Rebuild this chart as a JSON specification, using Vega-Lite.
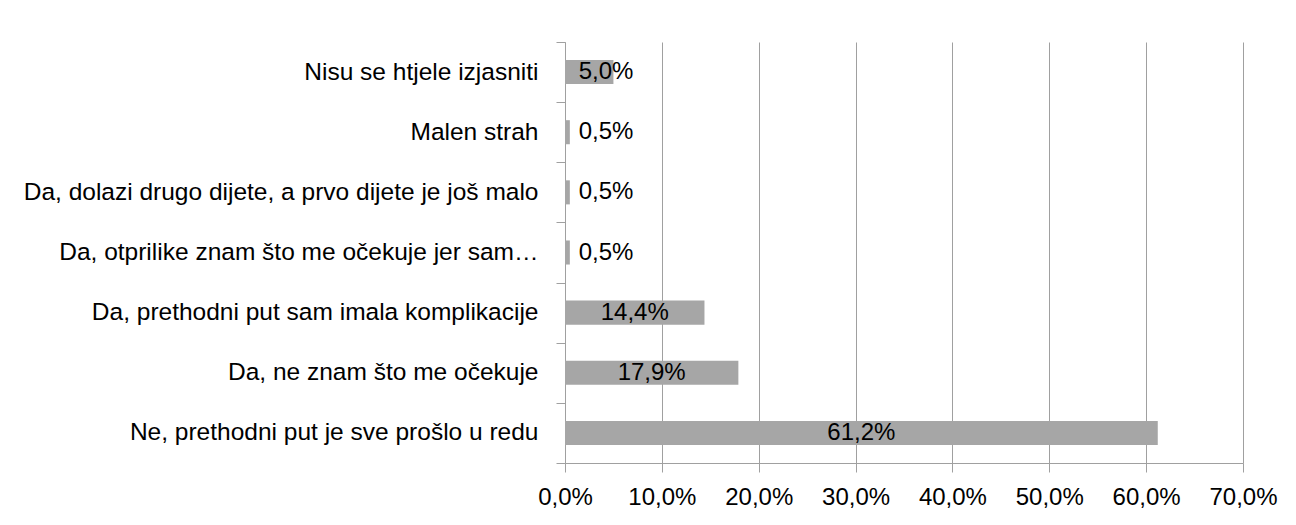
{
  "$schema": "https://vega.github.io/schema/vega-lite/v6.json",
  "autosize": {"type": "none"},
  "padding": {"left": 565, "top": 42, "right": 53, "bottom": 62},
  "width": 678,
  "height": 421,
  "background": "white",
  "config": {
    "view": {"stroke": null},
    "font": "Liberation Sans"
  },
  "data": {
    "values": [
      {"category": "Nisu se htjele izjasniti", "value": 0.050},
      {"category": "Malen strah", "value": 0.005},
      {"category": "Da, dolazi drugo dijete, a prvo dijete je još malo", "value": 0.005},
      {"category": "Da, otprilike znam što me očekuje jer sam…", "value": 0.005},
      {"category": "Da, prethodni put sam imala komplikacije", "value": 0.144},
      {"category": "Da, ne znam što me očekuje", "value": 0.179},
      {"category": "Ne, prethodni put je sve prošlo u redu", "value": 0.612}
    ]
  },
  "transform": [
    {"calculate": "replace(format(datum.value, '.1%'), '.', ',')", "as": "label"},
    {"calculate": "max(datum.value / 2, 0.0424)", "as": "labelX"}
  ],
  "encoding": {
    "y": {
      "field": "category",
      "type": "nominal",
      "sort": null,
      "scale": {"paddingInner": 0, "paddingOuter": 0},
      "axis": {
        "title": null,
        "tickBand": "extent",
        "domainColor": "#A0A0A0",
        "tickColor": "#A0A0A0",
        "tickSize": 9,
        "labelPadding": 18,
        "labelFontSize": 24.5,
        "labelColor": "#000000",
        "labelLimit": 600,
        "grid": false
      }
    }
  },
  "layer": [
    {
      "mark": {"type": "bar", "color": "#A6A6A6", "height": {"band": 0.4}},
      "encoding": {
        "x": {
          "field": "value",
          "type": "quantitative",
          "scale": {"domain": [0, 0.7], "nice": false},
          "axis": {
            "title": null,
            "values": [0, 0.1, 0.2, 0.3, 0.4, 0.5, 0.6, 0.7],
            "labelExpr": "replace(format(datum.value, '.1%'), '.', ',')",
            "grid": true,
            "gridColor": "#A0A0A0",
            "gridWidth": 1,
            "domainColor": "#A0A0A0",
            "tickColor": "#A0A0A0",
            "tickSize": 9,
            "labelPadding": 13,
            "labelFontSize": 24,
            "labelColor": "#000000",
            "labelFlush": false
          }
        }
      }
    },
    {
      "mark": {"type": "text", "fontSize": 24, "color": "#000000", "align": "center", "baseline": "middle"},
      "encoding": {
        "x": {"field": "labelX", "type": "quantitative"},
        "text": {"field": "label", "type": "nominal"}
      }
    }
  ]
}
